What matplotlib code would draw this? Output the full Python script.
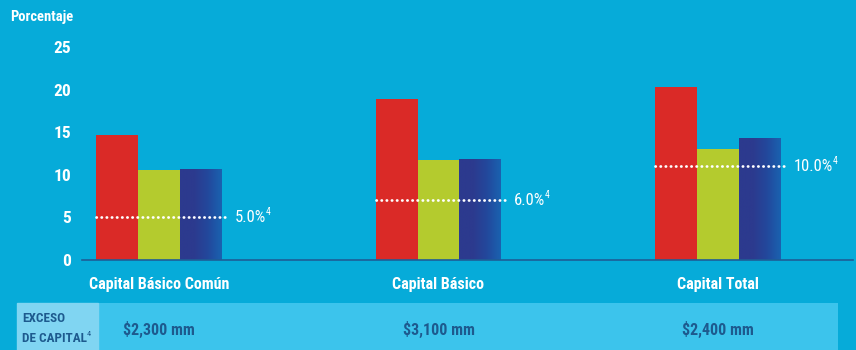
import matplotlib.pyplot as plt
import numpy as np
from matplotlib.colors import LinearSegmentedColormap

plt.rcParams['font.family'] = ['Roboto Condensed', 'Liberation Sans Narrow', 'Roboto', 'DejaVu Sans']

categories = ['Capital Básico Común', 'Capital Básico', 'Capital Total']
serie_roja = [14.7, 18.9, 20.3]
serie_verde = [10.6, 11.7, 13.0]
serie_azul = [10.7, 11.85, 14.3]
minimos = [5.0, 7.0, 11.0]
minimos_txt = ['5.0%', '6.0%', '10.0%']
exceso = ['$2,300 mm', '$3,100 mm', '$2,400 mm']
yticks = [0, 5, 10, 15, 20, 25]

bg = '#06ABD9'
fig = plt.figure(figsize=(8.56, 3.5), dpi=100, facecolor=bg)

# franja inferior
band = fig.add_axes([17/856, 0, (838-17)/856, 47/350])
band.set_facecolor('#3CC4EC')
band.set_xticks([]); band.set_yticks([])
for s in band.spines.values():
    s.set_visible(False)
fig.patches.append(plt.Rectangle((17/856, 0), (98-17)/856, 47/350,
                                 transform=fig.transFigure, color='#80D5F2', zorder=1))

ax = fig.add_axes([82/856, 90/350, (853-82)/856, 260/350])
ax.set_facecolor('none')
ax.set_zorder(2)
x = np.arange(len(categories))
w = 0.150
ax.bar(x - w, serie_roja, w, color='#DA2A27')
ax.bar(x, serie_verde, w, color='#B4CB2E')
azules = ax.bar(x + w, serie_azul, w, color='#2C3A8E')

# degradado en barras azules
cmap = LinearSegmentedColormap.from_list('az', ['#2C3A8E', '#2C3A8E', '#23489C', '#1A62B0'])
grad = np.linspace(0, 1, 64).reshape(1, -1)
for b in azules:
    x0, y0 = b.get_x(), b.get_y()
    im = ax.imshow(grad, cmap=cmap, aspect='auto', zorder=b.get_zorder() + 0.1,
                   extent=[x0, x0 + b.get_width(), y0, y0 + b.get_height()])
    im.set_clip_path(b)

for i, m in enumerate(minimos):
    ax.plot([x[i] - 1.5*w, x[i] + 1.5*w + 0.02], [m, m], color='white', zorder=4,
            lw=2, linestyle=(0, (0.1, 1.75)), dash_capstyle='round')
    ax.text(x[i] + 1.5*w + 0.045, m, minimos_txt[i], color='white',
            fontsize=12, va='center', ha='left')

ax.set_xlim(-0.2755, 2.483)
ax.set_ylim(0, 260/8.52)
ax.set_xticks([])
ax.set_yticks(yticks)
ax.tick_params(axis='y', length=0, pad=8, labelcolor='white', labelsize=12.5)
for lbl in ax.get_yticklabels():
    lbl.set_fontweight('bold')
for s in ['top', 'right', 'left']:
    ax.spines[s].set_visible(False)
ax.spines['bottom'].set_color('#1E5E96')
ax.spines['bottom'].set_linewidth(1.2)

# superindices "4"
fig.canvas.draw()
r = fig.canvas.get_renderer()
for t in list(ax.texts):
    bb = t.get_window_extent(r)
    fig.text((bb.x1)/856, (bb.y1 - 5)/350, '4', color='white', fontsize=7,
             ha='left', va='baseline')

for i, c in enumerate(categories):
    fig.text((159 + 279.5*i)/856, 1 - 284/350, c, color='white', fontsize=11.5,
             fontweight='bold', ha='center', va='center')
    fig.text((159 + 279.5*i)/856, 1 - 329/350, exceso[i], color='#1D5A8E',
             fontsize=11.5, fontweight='bold', ha='center', va='center', zorder=5)

fig.text(10/856, 1 - 17/350, 'Porcentaje', color='white', fontsize=10.5,
         fontweight='bold', ha='left', va='center')
fig.text(22/856, 1 - 319/350, 'EXCESO', color='#1D5A8E', fontsize=9.5,
         fontweight='bold', ha='left', va='center', zorder=5)
t2 = fig.text(22/856, 1 - 338/350, 'DE CAPITAL', color='#1D5A8E', fontsize=9.5,
              fontweight='bold', ha='left', va='center', zorder=5)
bb = t2.get_window_extent(r)
fig.text((bb.x1)/856, (bb.y1 - 4.5)/350, '4', color='#1D5A8E', fontsize=6,
         ha='left', va='baseline', zorder=5)

fig.savefig('out.png', dpi=100, facecolor=bg)
